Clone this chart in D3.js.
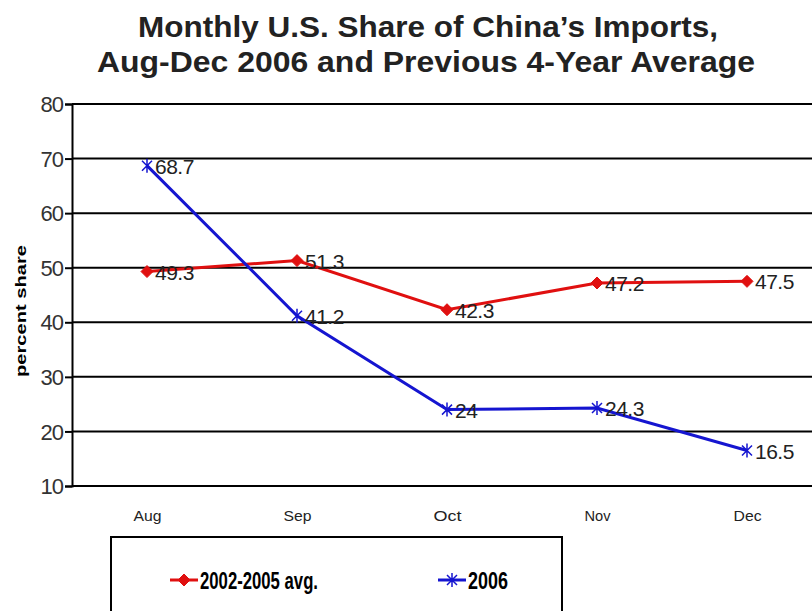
<!DOCTYPE html>
<html>
<head>
<meta charset="utf-8">
<script src="https://cdn.jsdelivr.net/npm/d3@7"></script>
<style>
	body { margin: 0; background: #fff; }
	svg { display: block; font-family: "Liberation Sans", Arial, sans-serif; }
</style>
</head>
<body>
<div id="chart"></div>
<script>
// chart data
var months = ['Aug', 'Sep', 'Oct', 'Nov', 'Dec'];
var avgValues = [49.3, 51.3, 42.3, 47.2, 47.5];
var y2006Values = [68.7, 41.2, 24, 24.3, 16.5];
var yTicks = [10, 20, 30, 40, 50, 60, 70, 80];
var seriesNames = ['2002-2005 avg.', '2006'];

var width = 812, height = 611;
var margin = { left: 72, top: 104, bottom: 125 };
var plotW = 750;
var plotH = height - margin.top - margin.bottom;

var svg = d3.select('#chart').append('svg')
	.attr('width', width)
	.attr('height', height);

svg.append('text')
	.attr('x', 428).attr('y', 37)
	.attr('text-anchor', 'middle')
	.attr('textLength', 580).attr('lengthAdjust', 'spacingAndGlyphs')
	.style('font-size', '30px').style('font-weight', 'bold').style('fill', '#222')
	.text('Monthly U.S. Share of China\u2019s Imports,');
svg.append('text')
	.attr('x', 426).attr('y', 72)
	.attr('text-anchor', 'middle')
	.attr('textLength', 658).attr('lengthAdjust', 'spacingAndGlyphs')
	.style('font-size', '30px').style('font-weight', 'bold').style('fill', '#222')
	.text('Aug-Dec 2006 and Previous 4-Year Average');

var x = d3.scalePoint().domain(months).range([0, plotW]).padding(0.5);
var y = d3.scaleLinear().domain([10, 80]).range([plotH, 0]);

var g = svg.append('g').attr('transform', 'translate(' + margin.left + ',' + margin.top + ')');

// gridlines
g.selectAll('.grid').data(yTicks).enter().append('line')
	.attr('x1', 0).attr('x2', plotW)
	.attr('y1', function(d) { return y(d); })
	.attr('y2', function(d) { return y(d); })
	.style('stroke', '#000').style('stroke-width', 2);

var yAxis = g.append('g')
	.call(d3.axisLeft(y).tickValues(yTicks).tickSize(7).tickPadding(2));
yAxis.select('.domain').style('stroke', '#000').style('stroke-width', 2);
yAxis.selectAll('line').style('stroke', '#000').style('stroke-width', 2);
yAxis.selectAll('text')
	.style('font-size', '22px').style('fill', '#333').style('font-family', '"Liberation Sans", Arial, sans-serif')
	.attr('dy', '0.35em').attr('letter-spacing', '-1');

var xAxis = g.append('g')
	.attr('transform', 'translate(0,' + plotH + ')')
	.call(d3.axisBottom(x).tickSize(0).tickPadding(20));
xAxis.select('.domain').remove();
xAxis.selectAll('text')
	.attr('dy', '1em')
	.attr('textLength', function(d) { return d === 'Nov' ? 26 : 28; })
	.attr('lengthAdjust', 'spacingAndGlyphs')
	.style('font-size', '15px').style('fill', '#222').style('font-family', '"Liberation Sans", Arial, sans-serif');

svg.append('text')
	.attr('transform', 'translate(26,' + 311 + ') rotate(-90)')
	.attr('text-anchor', 'middle')
	.attr('textLength', 132).attr('lengthAdjust', 'spacingAndGlyphs')
	.style('font-size', '15px').style('font-weight', 'bold')
	.text('percent share');

var line = d3.line()
	.x(function(d, i) { return x(months[i]); })
	.y(function(d) { return y(d); });

var series = [
	{ name: seriesNames[0], values: avgValues, color: '#e01010', marker: 'diamond', legendX: 170, legendW: 118 },
	{ name: seriesNames[1], values: y2006Values, color: '#1515d0', marker: 'star', legendX: 438, legendW: 40 }
];

function drawMarker(sel, kind, color) {
	if (kind === 'diamond') {
		sel.append('path')
			.attr('d', 'M0,-6L6,0L0,6L-6,0Z')
			.style('fill', color).style('stroke', color);
	} else {
		sel.append('path')
			.attr('d', 'M-5,-5L5,5M-5,5L5,-5M0,-7L0,7')
			.style('fill', 'none').style('stroke', color).style('stroke-width', 1.5);
	}
}

series.forEach(function(s) {
	g.append('path')
		.datum(s.values)
		.attr('d', line)
		.style('fill', 'none')
		.style('stroke', s.color)
		.style('stroke-width', 3);
	var pts = g.selectAll(null).data(s.values).enter().append('g')
		.attr('transform', function(d, i) { return 'translate(' + x(months[i]) + ',' + y(d) + ')'; });
	pts.each(function() { drawMarker(d3.select(this), s.marker, s.color); });
	pts.append('text')
		.attr('x', 8).attr('y', 8)
		.style('font-size', '21px').style('fill', '#222').attr('letter-spacing', '-0.5')
		.text(function(d) { return d; });
});

// legend
var legend = svg.append('g');
legend.append('rect')
	.attr('x', 111).attr('y', 537)
	.attr('width', 451).attr('height', 90)
	.style('fill', '#fff').style('stroke', '#000').style('stroke-width', 2);

series.forEach(function(s) {
	var lg = legend.append('g').attr('transform', 'translate(' + s.legendX + ',580)');
	lg.append('line').attr('x1', 0).attr('x2', 28)
		.style('stroke', s.color).style('stroke-width', 3);
	var m = lg.append('g').attr('transform', 'translate(14,0)');
	drawMarker(m, s.marker, s.color);
	lg.append('text')
		.attr('x', 30).attr('y', 9)
		.attr('textLength', s.legendW).attr('lengthAdjust', 'spacingAndGlyphs')
		.style('font-size', '23px').style('font-weight', 'bold')
		.text(s.name);
});
</script>
</body>
</html>
